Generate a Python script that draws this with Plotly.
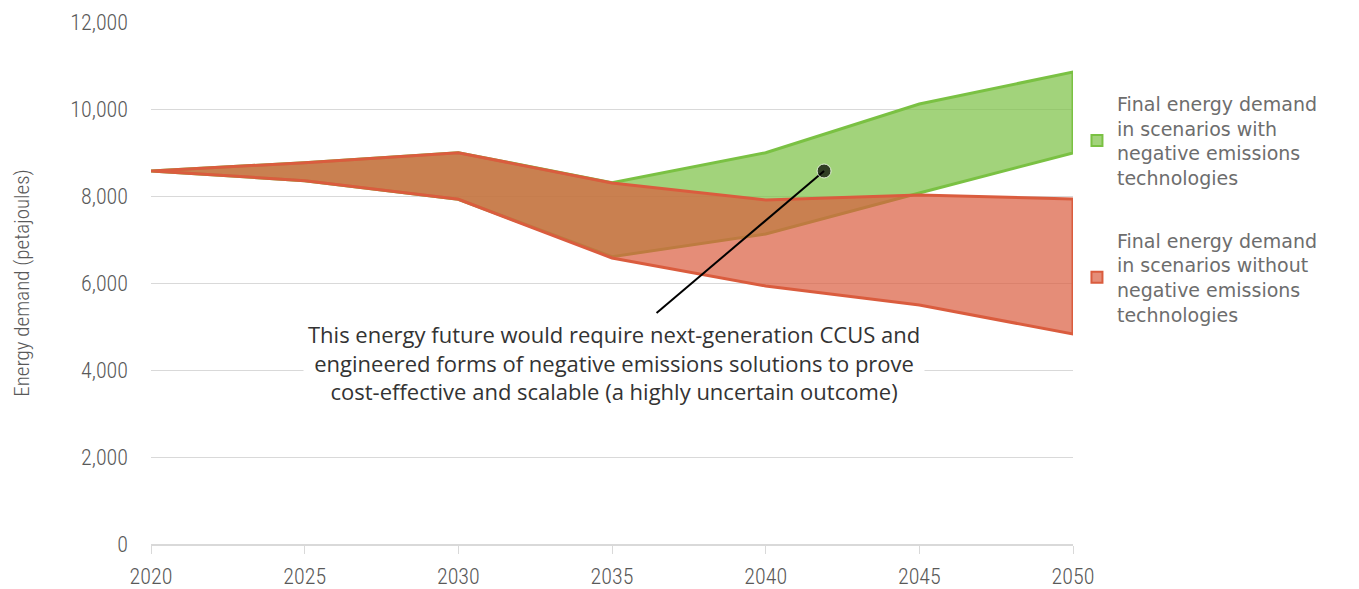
import plotly.graph_objects as go

years = [2020, 2025, 2030, 2035, 2040, 2045, 2050]

# final energy demand ranges (PJ)
with_net_high = [8575, 8766, 8996, 8305, 8995, 10115, 10851]
with_net_low = [8575, 8352, 7924, 6605, 7126, 8069, 8989]
without_net_high = [8575, 8766, 8996, 8299, 7908, 8023, 7931]
without_net_low = [8575, 8352, 7924, 6575, 5931, 5494, 4828]

legend_names = [
    "Final energy demand<br>in scenarios with<br>negative emissions<br>technologies",
    "Final energy demand<br>in scenarios without<br>negative emissions<br>technologies",
]
callout_text = ("This energy future would require next-generation CCUS and<br>"
                "engineered forms of negative emissions solutions to prove<br>"
                "cost-effective and scalable (a highly uncertain outcome)")
callout_point = (2041.9, 8575)
callout_end = (2036.45, 5310)
callout_text_pos = (2035.07, 4184)

axis_font = "Roboto Condensed, Liberation Sans Narrow, sans-serif"
green = (122, 193, 67)
red = (218, 92, 62)

def rgb(c, a=1):
    return "rgba(%d,%d,%d,%s)" % (c[0], c[1], c[2], a)

def band(high, low, col):
    return go.Scatter(
        x=years + years[::-1], y=high + low[::-1],
        fill="toself", fillcolor=rgb(col, 0.7), mode="lines",
        line=dict(color=rgb(col), width=3), showlegend=False, hoverinfo="skip")

fig = go.Figure()
fig.add_trace(band(with_net_high, with_net_low, green))
fig.add_trace(band(without_net_high, without_net_low, red))

# legend-only square markers
for i, (name, col) in enumerate(zip(legend_names, [green, red])):
    fig.add_trace(go.Scatter(
        x=[None], y=[None], mode="markers", name=name, legendgroup="g%d" % i,
        marker=dict(symbol="square", size=11, color=rgb(col, 0.7),
                    line=dict(color=rgb(col), width=2))))

# callout line + dot
fig.add_trace(go.Scatter(
    x=[callout_end[0], callout_point[0]], y=[callout_end[1], callout_point[1]],
    mode="lines+markers", line=dict(color="black", width=2),
    marker=dict(size=[0, 14], color="black"), showlegend=False, hoverinfo="skip"))

fig.add_annotation(x=callout_text_pos[0], y=callout_text_pos[1], xref="x", yref="y",
                   text=callout_text, showarrow=False, align="center",
                   bgcolor="white", borderpad=4,
                   font=dict(family="Open Sans, sans-serif", size=22, color="#333"))

# page body adds an 8px offset, so the figure is sized to fit the window
fig.update_layout(
    width=1343, height=581,
    margin=dict(l=143, r=278, t=14, b=45),
    paper_bgcolor="white", plot_bgcolor="white",
    legend=dict(x=1.0043, y=0.88, xanchor="left", yanchor="top",
                font=dict(family="DejaVu Sans, sans-serif", size=19, color="#6d6d6d"),
                tracegroupgap=35, itemwidth=30),
    xaxis=dict(range=[2020, 2050], tickvals=years, showgrid=False, automargin=False,
               showline=True, linecolor="#d9d9d9", linewidth=2,
               ticks="outside", ticklen=8, tickcolor="#d9d9d9", ticklabelstandoff=4,
               tickfont=dict(family=axis_font, size=22, color="#595959", weight=300)),
    yaxis=dict(range=[0, 12000], dtick=2000, tickformat=",", automargin=False,
               showgrid=True, gridcolor="#d9d9d9", zeroline=False,
               ticks="", ticklabelstandoff=22,
               tickfont=dict(family=axis_font, size=22, color="#595959", weight=300),
               title=dict(text="Energy demand (petajoules)", standoff=34,
                          font=dict(family=axis_font, size=21, color="#595959",
                                    weight=300))),
)

fig.write_html("out.html")
